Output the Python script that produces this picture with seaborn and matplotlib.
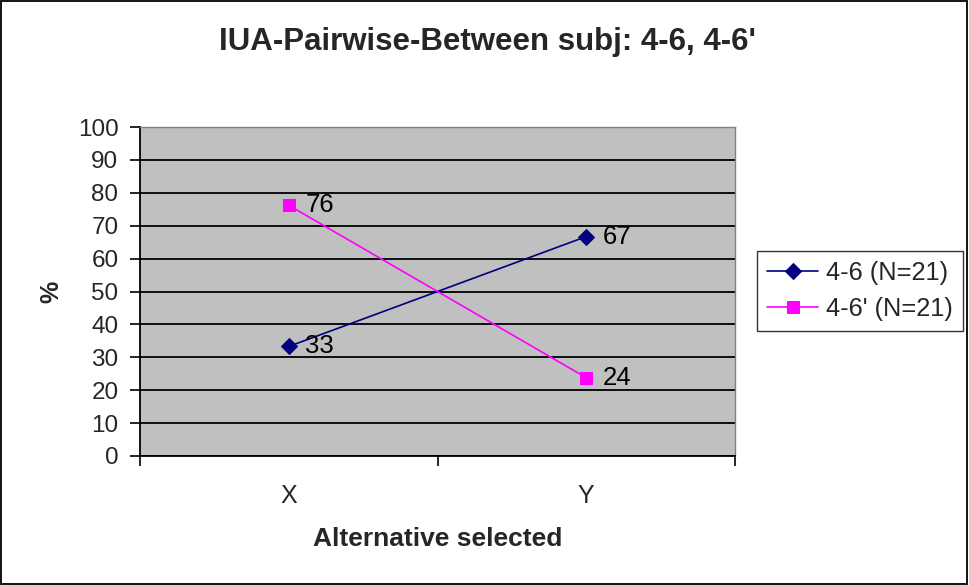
import matplotlib
matplotlib.use("Agg")
import matplotlib.pyplot as plt
import seaborn as sns
import pandas as pd
from matplotlib.patches import Rectangle

categories = ["X", "Y"]
series_names = ["4-6 (N=21)", "4-6' (N=21)"]
values_46 = [33.3, 66.7]
values_46p = [76.2, 23.8]
labels_46 = ["33", "67"]
labels_46p = ["76", "24"]
y_ticks = [0, 10, 20, 30, 40, 50, 60, 70, 80, 90, 100]

sns.set_theme(style="white")
plt.rcParams['font.family'] = ['Liberation Sans', 'DejaVu Sans']

fig = plt.figure(figsize=(9.69, 5.85), dpi=100)
ax = fig.add_axes([140/969, 1-456/585, (735-140)/969, (456-127)/585])
ax.set_facecolor("#C0C0C0")

df = pd.DataFrame({
    "cat": categories * 2,
    "val": values_46 + values_46p,
    "series": [series_names[0]] * 2 + [series_names[1]] * 2,
})

styles = [("#000080", "D", 8), ("#FF00FF", "s", 8)]
for name, (col, mk, ms) in zip(series_names, styles):
    sub = df[df["series"] == name]
    sns.lineplot(data=sub, x="cat", y="val", ax=ax, color=col, marker=mk,
                 markersize=ms, markeredgecolor=col, linewidth=1.2,
                 label=name, sort=False)

# data labels
for vals, labs in [(values_46, labels_46), (values_46p, labels_46p)]:
    for i, (v, l) in enumerate(zip(vals, labs)):
        ax.annotate(l, (i, v), xytext=(12, 0), textcoords="offset points",
                    ha="left", va="center", fontsize=18.5, color="black")

ax.set_ylim(0, 100)
ax.set_xlim(-0.5, 1.5)
ax.set_yticks(y_ticks)
ax.set_yticklabels([str(t) for t in y_ticks], fontsize=17.5)
ax.yaxis.grid(True, color="black", linewidth=1.3)
ax.xaxis.grid(False)
ax.set_axisbelow(True)

ax.set_xticks([0, 1])
ax.set_xticklabels(categories, fontsize=18)
ax.set_xticks([-0.5, 0.5, 1.5], minor=True)
ax.tick_params(axis="x", which="major", length=0, pad=20)
ax.tick_params(axis="x", which="minor", length=7.5, width=1.2, color="black", direction="out", bottom=True)
ax.tick_params(axis="y", length=7.5, width=1.2, color="black", direction="out", left=True, pad=8)

for s in ["left", "bottom"]:
    ax.spines[s].set_color("black")
    ax.spines[s].set_linewidth(1.3)
for s in ["top", "right"]:
    ax.spines[s].set_color("#808080")
    ax.spines[s].set_linewidth(1.0)

ax.set_xlabel("Alternative selected", fontsize=19, fontweight="bold", labelpad=14)
ax.set_ylabel("%", fontsize=18, fontweight="bold", labelpad=10)

fig.suptitle("IUA-Pairwise-Between subj: 4-6, 4-6'", fontsize=22.5, fontweight="bold",
             x=487.5/969, y=1-27/585, va="top")

leg = ax.legend(loc="center left", bbox_to_anchor=(757/969, 1-291/585),
                bbox_transform=fig.transFigure, fontsize=18.3, frameon=True,
                fancybox=False, handlelength=2.0, borderpad=0.4,
                labelspacing=0.45, handletextpad=0.3, borderaxespad=0)
leg.get_frame().set_edgecolor("black")
leg.get_frame().set_linewidth(1.0)
leg.get_frame().set_facecolor("white")

fig.patches.append(Rectangle((0.001, 0.002), 0.997, 0.996, transform=fig.transFigure,
                             fill=False, edgecolor="black", linewidth=1.3))

fig.savefig("out.png", dpi=100)
